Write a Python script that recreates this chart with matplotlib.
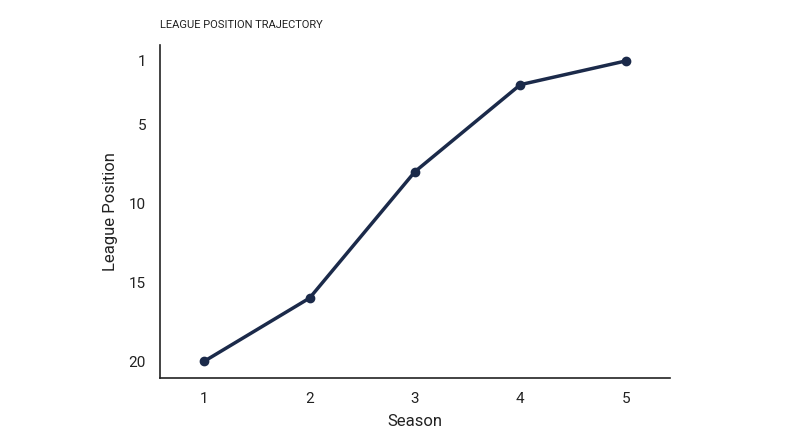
import matplotlib
matplotlib.use("Agg")
import matplotlib.pyplot as plt

seasons = [1, 2, 3, 4, 5]
positions = [20, 16, 8, 2.5, 1]
yticks = [1, 5, 10, 15, 20]

navy = "#1b2a4a"
plt.rcParams['font.family'] = ['Roboto', 'DejaVu Sans']
fig = plt.figure(figsize=(8, 4.47), dpi=100)
ax = fig.add_axes([0.2, 0.154, 0.6375, 0.745])
ax.plot(seasons, positions, color=navy, lw=2.5, marker='o', ms=6)
ax.set_xlim(0.58, 5.42)
ax.set_ylim(21.07, 0)
ax.set_xticks(seasons)
ax.set_yticks(yticks)
ax.tick_params(labelsize=11, colors="#222222", length=0, pad=10)
for s in ['top', 'right']:
    ax.spines[s].set_visible(False)
for s in ['left', 'bottom']:
    ax.spines[s].set_color("#222222")
    ax.spines[s].set_linewidth(1.2)
ax.set_xlabel("Season", fontsize=12, color="#222222", labelpad=6)
ax.set_ylabel("League Position", fontsize=12, color="#222222", labelpad=8)
fig.text(0.2, 0.945, "LEAGUE POSITION TRAJECTORY", fontsize=8, color="#222222", va='center')
fig.savefig("out.png", dpi=100)
